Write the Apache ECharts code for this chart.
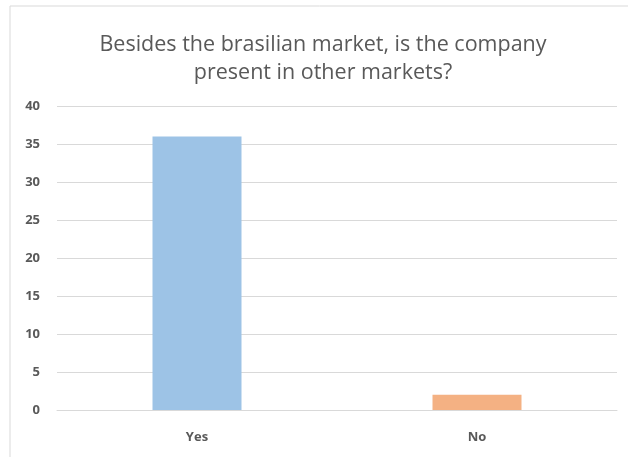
<!DOCTYPE html>
<html>
<head>
<meta charset="utf-8">
<script src="https://cdn.jsdelivr.net/npm/echarts@6/dist/echarts.min.js"></script>
<style>
  html, body { margin: 0; padding: 0; background: #fff; }
  #chart { width: 628px; height: 457px; }
</style>
</head>
<body>
<div id="chart"></div>
<script>
// Survey answers: presence in markets outside Brazil
const categories = ['Yes', 'No'];
const answerCounts = [36, 2];
const barColors = ['#9DC3E6', '#F4B183'];
const yTicks = { min: 0, max: 40, step: 5 };

const chart = echarts.init(document.getElementById('chart'), null, { renderer: 'canvas' });

chart.setOption({
  animation: false,
  backgroundColor: '#ffffff',
  title: {
    text: 'Besides the brasilian market, is the company\npresent in other markets?',
    left: 318,
    top: 26,
    textAlign: 'center',
    textStyle: {
      fontFamily: 'Open Sans',
      fontWeight: 'normal',
      fontSize: 21.5,
      color: '#595959',
      lineHeight: 28
    }
  },
  graphic: [{
    type: 'rect',
    shape: { x: 10, y: 6, width: 700, height: 500 },
    style: { fill: 'none', stroke: '#D9D9D9', lineWidth: 1 },
    silent: true,
    z: -1
  }],
  grid: { left: 57, right: 11, top: 106, bottom: 47, containLabel: false },
  xAxis: {
    type: 'category',
    data: categories,
    axisLine: { show: true, lineStyle: { color: '#D9D9D9', width: 1 } },
    axisTick: { show: false },
    axisLabel: {
      fontFamily: 'Open Sans',
      fontWeight: 'bold',
      fontSize: 13,
      color: '#595959',
      margin: 21
    }
  },
  yAxis: {
    type: 'value',
    min: yTicks.min,
    max: yTicks.max,
    interval: yTicks.step,
    axisLine: { show: false },
    axisTick: { show: false },
    splitLine: { lineStyle: { color: '#D9D9D9', width: 1 } },
    axisLabel: {
      fontFamily: 'Open Sans',
      fontWeight: 'bold',
      fontSize: 13,
      color: '#595959',
      margin: 17
    }
  },
  series: [{
    type: 'bar',
    data: answerCounts.map((v, i) => ({ value: v, itemStyle: { color: barColors[i] } })),
    barWidth: 89
  }]
});
</script>
</body>
</html>
